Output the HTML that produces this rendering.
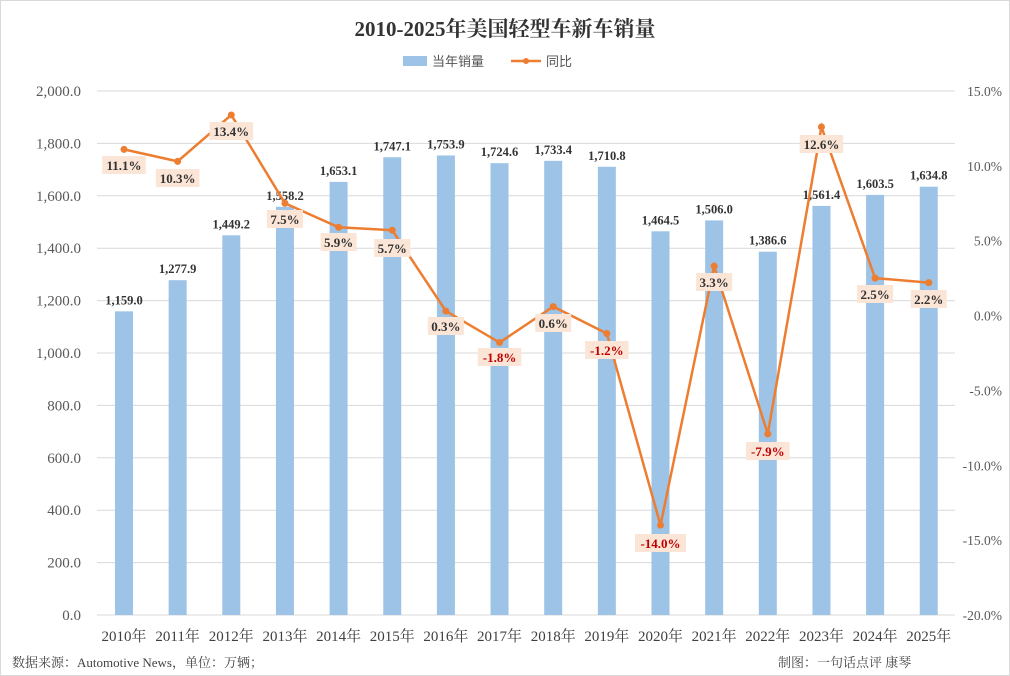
<!DOCTYPE html>
<html><head><meta charset="utf-8"><style>
body{margin:0;background:#fff;}
svg{display:block;font-family:"Liberation Serif","Noto Serif CJK SC",serif;}
</style></head><body>
<svg id="s" width="1010" height="676" viewBox="0 0 1010 676" xmlns="http://www.w3.org/2000/svg">
<rect x="0.5" y="0.5" width="1009" height="675" fill="#fff" stroke="#d9d9d9"/>
<text x="505" y="36" text-anchor="middle" font-size="21" font-weight="bold" fill="#333">2010-2025年美国轻型车新车销量</text>
<rect x="403" y="56" width="24" height="10" fill="#9dc3e6"/>
<text x="432" y="66" font-size="13" fill="#555" font-family="Noto Sans CJK SC,sans-serif">当年销量</text>
<line x1="511" y1="61" x2="541" y2="61" stroke="#ed7d31" stroke-width="2.5"/>
<circle cx="526" cy="61" r="3" fill="#ed7d31"/>
<text x="546" y="66" font-size="13" fill="#555" font-family="Noto Sans CJK SC,sans-serif">同比</text>
<g id="g"></g>
<text x="12" y="667" font-size="13" fill="#444">数据来源：Automotive News，单位：万辆；</text>
<text x="778" y="667" font-size="13" fill="#444">制图：一句话点评 康琴</text>
</svg>
<script>
var g=document.getElementById('g'),h='';
var bars=[1159.0,1277.9,1449.2,1558.2,1653.1,1747.1,1753.9,1724.6,1733.4,1710.8,1464.5,1506.0,1386.6,1561.4,1603.5,1634.8];
var pct=[11.1,10.3,13.4,7.5,5.9,5.7,0.3,-1.8,0.6,-1.2,-14.0,3.3,-7.9,12.6,2.5,2.2];
var ly=[165,178,131,219,242,248,326,357,323,350,543,282,451,144,294,299];
function Y(v){return 615-v*524/2000;}
function P(v){return 91+(15-v)*524/35;}
for(var i=0;i<=10;i++){var y=615-i*52.4;h+='<line x1="97" y1="'+y+'" x2="955" y2="'+y+'" stroke="#d9d9d9"/>';
h+='<text x="81" y="'+(y+5)+'" text-anchor="end" font-size="15" fill="#595959">'+(i*200).toLocaleString('en-US',{minimumFractionDigits:1})+'</text>';}
for(var i=0;i<8;i++){var v=15-i*5,y=P(v);h+='<text x="1002" y="'+(y+5)+'" text-anchor="end" font-size="13.5" fill="#595959">'+v.toFixed(1)+'%</text>';}
var pts=[];
for(var i=0;i<16;i++){var cx=124+i*53.65,y=Y(bars[i]);
h+='<rect x="'+(cx-9)+'" y="'+y+'" width="18" height="'+(615-y)+'" fill="#9dc3e6"/>';
h+='<text x="'+cx+'" y="'+(y-7)+'" text-anchor="middle" font-size="12.5" font-weight="bold" fill="#333">'+bars[i].toLocaleString('en-US',{minimumFractionDigits:1})+'</text>';
h+='<text x="'+cx+'" y="641" text-anchor="middle" font-size="15" fill="#404040">'+(2010+i)+'年</text>';
pts.push(cx+','+P(pct[i]));}
h+='<polyline points="'+pts.join(' ')+'" fill="none" stroke="#ed7d31" stroke-width="2.5"/>';
for(var i=0;i<16;i++){var cx=124+i*53.65;h+='<circle cx="'+cx+'" cy="'+P(pct[i])+'" r="3.5" fill="#ed7d31"/>';
var t=pct[i].toFixed(1)+'%',w=t.length*7.5+6;
h+='<rect x="'+(cx-w/2)+'" y="'+(ly[i]-9)+'" width="'+w+'" height="18" fill="#fbe5d6"/>';
h+='<text x="'+cx+'" y="'+(ly[i]+5)+'" text-anchor="middle" font-size="13" font-weight="bold" fill="'+(pct[i]<0?'#c00000':'#333')+'">'+t+'</text>';}
g.innerHTML=h;
</script>
</body></html>
